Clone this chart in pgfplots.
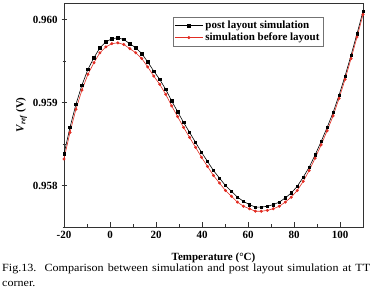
\documentclass[border=0pt]{standalone}
\usepackage{pgfplots}
\pgfplotsset{compat=1.18}
\usepackage{fontspec}
\setmainfont{Liberation Serif}
\newfontfamily\capfont[FakeStretch=1.1]{Liberation Serif}
\definecolor{myred}{RGB}{225,45,35}
\definecolor{axgray}{RGB}{50,50,50}
\begin{document}
\fontsize{11}{13}\selectfont
\begin{tikzpicture}
\begin{axis}[name=ax, scale only axis, width=299pt, height=224pt,
 xmin=-20, xmax=110, ymin=0.9575, ymax=0.9602,
 xtick={-20,0,20,40,60,80,100}, xticklabels={-20,0,20,40,60,80,100},
 ytick={0.958,0.959,0.960}, yticklabels={0.958,0.959,0.960},
 minor xtick={-10,10,30,50,70,90,110}, minor ytick={0.9575,0.9585,0.9595},
 xtick pos=bottom, ytick pos=left,
 xtick align=inside, ytick align=center,
 major tick length=5pt, minor tick length=3pt,
 axis line style={axgray, line width=0.8pt},
 every tick/.style={axgray, line width=0.7pt},
 tick label style={font=\bfseries},
 xlabel={Temperature (°C)},
 ylabel={\textbf{\textit{V}\textsubscript{\textit{ref}}\,(V)}},
 label style={font=\bfseries},
 xlabel style={at={(axis description cs:0.5,0)}, anchor=north, inner sep=0pt, yshift=-26pt},
 ylabel style={at={(axis description cs:-0.142,0.5)}, anchor=center},
 legend style={at={(0.867,0.936)}, anchor=north east, draw=black!55, line width=0.5pt,
   font=\bfseries, inner sep=1.5pt, row sep=-1.5pt, cells={anchor=west}},
 legend image code/.code={\draw[mark repeat=2,mark phase=2] plot coordinates {(0cm,0cm)(0.5cm,0cm)(1cm,0cm)};},
]
\addplot[black, line width=0.6pt, mark=square*, mark size=1.2pt] coordinates {
(-20.0,0.95838)(-17.4,0.95870)(-14.8,0.95898)(-12.2,0.95921)(-9.6,0.95940)
(-7.0,0.95954)(-4.4,0.95966)(-1.8,0.95973)(0.8,0.95977)(3.4,0.95978)
(6.0,0.95976)(8.6,0.95971)(11.2,0.95966)(13.8,0.95959)(16.4,0.95949)
(19.0,0.95938)(21.6,0.95928)(24.2,0.95916)(26.8,0.95902)(29.4,0.95889)
(32.0,0.95876)(34.6,0.95864)(37.2,0.95852)(39.8,0.95840)(42.4,0.95829)
(45.0,0.95818)(47.6,0.95809)(50.2,0.95800)(52.8,0.95793)(55.4,0.95786)
(58.0,0.95781)(60.6,0.95777)(63.2,0.95774)(65.8,0.95774)(68.4,0.95775)
(71.0,0.95777)(73.6,0.95780)(76.2,0.95785)(78.8,0.95791)(81.4,0.95799)
(84.0,0.95810)(86.6,0.95822)(89.2,0.95837)(91.8,0.95853)(94.4,0.95870)
(97.0,0.95888)(99.6,0.95909)(102.2,0.95932)(104.8,0.95957)(107.4,0.95983)
(110.0,0.96010)};
\addlegendentry{post layout simulation}
\addplot[myred, line width=0.6pt, mark=*, mark size=1.2pt] coordinates {
(-20.0,0.95832)(-17.4,0.95864)(-14.8,0.95892)(-12.2,0.95915)(-9.6,0.95934)
(-7.0,0.95948)(-4.4,0.95960)(-1.8,0.95967)(0.8,0.95971)(3.4,0.95972)
(6.0,0.95970)(8.6,0.95965)(11.2,0.95960)(13.8,0.95953)(16.4,0.95943)
(19.0,0.95932)(21.6,0.95922)(24.2,0.95910)(26.8,0.95896)(29.4,0.95883)
(32.0,0.95870)(34.6,0.95858)(37.2,0.95846)(39.8,0.95834)(42.4,0.95823)
(45.0,0.95812)(47.6,0.95803)(50.2,0.95794)(52.8,0.95787)(55.4,0.95780)
(58.0,0.95775)(60.6,0.95772)(63.2,0.95769)(65.8,0.95769)(68.4,0.95770)
(71.0,0.95772)(73.6,0.95775)(76.2,0.95780)(78.8,0.95786)(81.4,0.95794)
(84.0,0.95805)(86.6,0.95818)(89.2,0.95833)(91.8,0.95849)(94.4,0.95866)
(97.0,0.95884)(99.6,0.95905)(102.2,0.95928)(104.8,0.95953)(107.4,0.95979)
(110.0,0.96006)};
\addlegendentry{simulation before layout}
\end{axis}
\node[anchor=north west, inner sep=0pt, text width=368pt, align=justify, font=\capfont\fontsize{11}{15}\selectfont]
  at ([shift={(-62pt,-37pt)}]ax.south west)
  {Fig.13.\ \ Comparison between simulation and post layout simulation at TT corner.};
\pgfresetboundingbox
\path[use as bounding box] ([shift={(-64pt,-67pt)}]ax.south west) rectangle ([shift={(10pt,3pt)}]ax.north east);
\end{tikzpicture}
\end{document}
